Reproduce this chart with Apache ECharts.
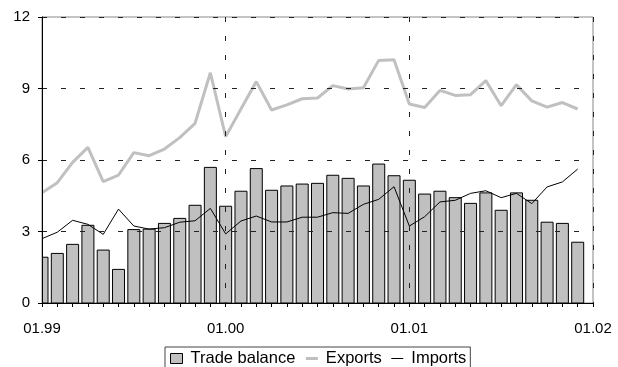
<!DOCTYPE html>
<html>
<head>
<meta charset="utf-8">
<script src="https://cdn.jsdelivr.net/npm/echarts@6/dist/echarts.min.js"></script>
<style>html,body{margin:0;padding:0;background:#fff;}#c{width:618px;height:367px;}</style>
</head>
<body>
<div id="c"></div>
<script>
// Months from 01.99 to 12.01 (index 0..35)
const xTickLabels = ['01.99', '01.00', '01.01', '01.02'];
const yTicks = [0, 3, 6, 9, 12];
const tradeBalance = [1.92, 2.08, 2.46, 3.26, 2.22, 1.41, 3.08, 3.10, 3.34, 3.55, 4.10, 5.69,
                      4.06, 4.69, 5.64, 4.73, 4.91, 4.99, 5.02, 5.36, 5.23, 4.91, 5.83, 5.34,
                      5.15, 4.57, 4.69, 4.42, 4.18, 4.62, 3.89, 4.62, 4.31, 3.39, 3.34, 2.55];
const exportsV = [4.63, 5.05, 5.90, 6.53, 5.09, 5.37, 6.31, 6.18, 6.46, 6.94, 7.54, 9.66,
                  6.98, 8.14, 9.29, 8.10, 8.31, 8.57, 8.60, 9.12, 8.98, 9.03, 10.18, 10.21,
                  8.35, 8.20, 8.92, 8.71, 8.74, 9.33, 8.28, 9.16, 8.48, 8.22, 8.41, 8.14];
const importsV = [2.70, 2.97, 3.47, 3.30, 2.88, 3.94, 3.23, 3.10, 3.16, 3.39, 3.45, 3.97,
                  2.90, 3.44, 3.65, 3.40, 3.40, 3.60, 3.60, 3.79, 3.76, 4.14, 4.35, 4.88,
                  3.23, 3.62, 4.24, 4.31, 4.60, 4.71, 4.42, 4.60, 4.17, 4.87, 5.08, 5.62];

const pairs = arr => arr.map((v, i) => [i, v]);
const font = 'Liberation Sans, Arial, sans-serif';
const dash = {color: '#222', width: 1, type: [5, 14]};
const BAR_W = 12;
const noSymbol = {color: 'rgba(0,0,0,0)', borderWidth: 0, opacity: 0};

function renderBar(params, api) {
  const x = api.value(0), v = api.value(1);
  const top = api.coord([x, v]);
  const base = api.coord([x, 0]);
  const cs = params.coordSys;
  const rect = echarts.graphic.clipRectByRect(
    {x: top[0] - BAR_W / 2, y: top[1], width: BAR_W, height: base[1] - top[1]},
    {x: cs.x, y: cs.y, width: cs.width, height: cs.height}
  );
  if (!rect) return null;
  return {type: 'rect', shape: rect, style: {fill: '#c0c0c0', stroke: '#000', lineWidth: 1}};
}

const chart = echarts.init(document.getElementById('c'), null, {renderer: 'canvas'});
chart.setOption({
  animation: false,
  backgroundColor: '#fff',
  grid: {left: 42, right: 25, top: 17, bottom: 64, show: true, borderColor: '#888', borderWidth: 1, containLabel: false},
  xAxis: {
    type: 'value', min: 0, max: 36, interval: 12,
    axisLine: {show: true, onZero: false, lineStyle: {color: '#000', width: 1}},
    axisTick: {show: true, inside: false, length: 4, lineStyle: {color: '#000'}},
    minorTick: {show: true, splitNumber: 12, length: 4, lineStyle: {color: '#000'}},
    axisLabel: {margin: 18, fontFamily: font, fontSize: 15, color: '#000',
      formatter: v => xTickLabels[Math.round(v / 12)] || ''},
    splitLine: {show: true, lineStyle: dash},
    z: 5
  },
  yAxis: {
    type: 'value', min: 0, max: 12, interval: 3,
    axisLine: {show: true, lineStyle: {color: '#000', width: 1}},
    axisTick: {show: true, inside: false, length: 4, lineStyle: {color: '#000'}},
    axisLabel: {margin: 12, fontFamily: font, fontSize: 15, color: '#000',
      formatter: v => yTicks.includes(v) ? String(v) : ''},
    splitLine: {show: true, lineStyle: dash},
    z: 5
  },
  legend: {
    left: 165, top: 347,
    borderColor: '#444', borderWidth: 1, padding: [3, 4, 6, 5],
    itemGap: 9, itemWidth: 12, itemHeight: 10,
    textStyle: {fontFamily: font, fontSize: 16.5, color: '#000', padding: [0, 0, 0, 3]},
    data: [
      {name: 'Trade balance', icon: 'rect', itemStyle: {color: '#c0c0c0', borderColor: '#000', borderWidth: 1}},
      {name: 'Exports', itemStyle: noSymbol, lineStyle: {color: '#c0c0c0', width: 3}},
      {name: 'Imports', itemStyle: noSymbol, lineStyle: {color: '#000', width: 1}}
    ]
  },
  series: [
    {
      name: 'Trade balance', type: 'custom', data: pairs(tradeBalance), renderItem: renderBar, clip: true,
      encode: {x: 0, y: 1},
      itemStyle: {color: '#c0c0c0', borderColor: '#000', borderWidth: 1}
    },
    {
      name: 'Exports', type: 'line', data: pairs(exportsV), symbol: 'none', showSymbol: false,
      lineStyle: {color: '#c0c0c0', width: 3}, itemStyle: {color: '#c0c0c0'}
    },
    {
      name: 'Imports', type: 'line', data: pairs(importsV), symbol: 'none', showSymbol: false,
      lineStyle: {color: '#000', width: 1}, itemStyle: {color: '#000'}
    }
  ]
});
</script>
</body>
</html>
